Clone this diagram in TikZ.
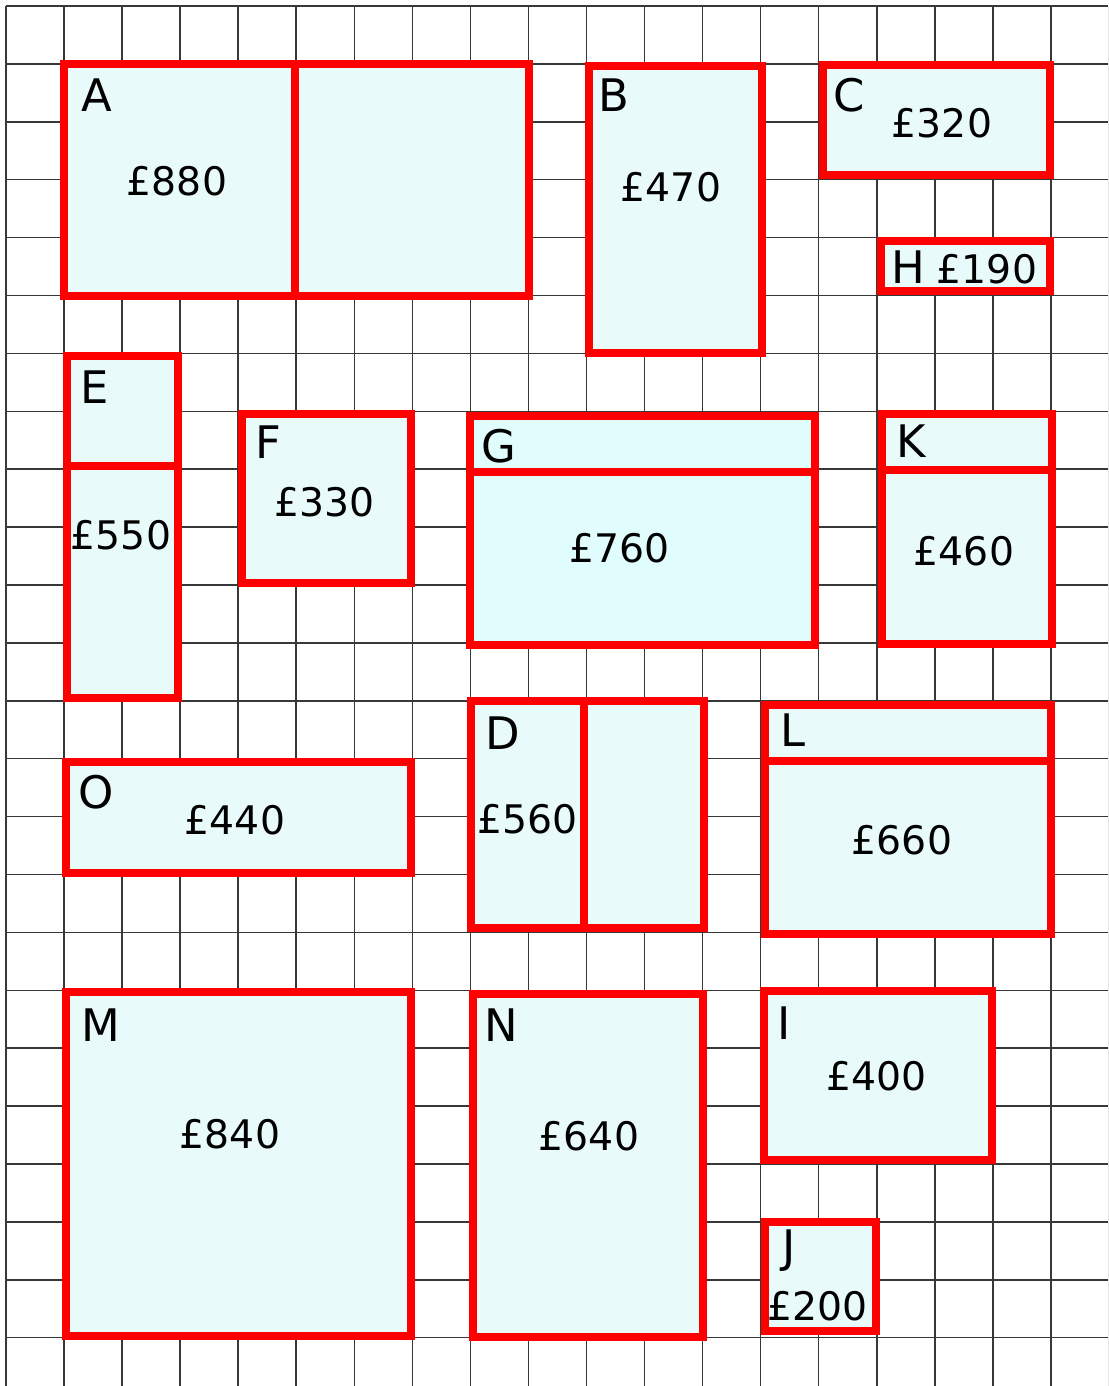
\documentclass[tikz,border=0pt]{standalone}
\usepackage{fontspec}
\setmainfont{DejaVu Sans}
\definecolor{boxfill}{HTML}{E8FAFA}
\definecolor{gfill}{HTML}{E0FCFC}
\definecolor{gridc}{HTML}{383838}
\begin{document}
\begin{tikzpicture}[x=0.0172414cm, y=-0.0172414cm,
  box/.style={draw=red, fill=boxfill, line width=3.9pt},
  divider/.style={draw=red, line width=3.9pt},
  lbl/.style={anchor=base, inner sep=0pt, font=\fontsize{22}{24}\selectfont},
  val/.style={anchor=base, inner sep=0pt, font=\fontsize{19.3}{22}\selectfont},
  gridline/.style={draw=gridc, line width=0.75pt}]
\useasboundingbox (0,0) rectangle (1108,1386);
\begin{scope}
\clip (0,0) rectangle (1108,1386);
\foreach \i in {0,...,19} \draw[gridline] ({6+58.05*\i},6) -- ({6+58.05*\i},1386);
\foreach \j in {0,...,23} \draw[gridline] (6,{6+57.9*\j}) -- (1108,{6+57.9*\j});
\end{scope}
% boxes
\path[box] (64,64) rectangle (529,296);   % A
\draw[divider] (295,64) -- (295,296);
\path[box] (589,66) rectangle (762,353);  % B
\path[box] (823,65) rectangle (1050,175); % C
\path[box] (881,241) rectangle (1050,291); % H
\path[box] (67,356) rectangle (178,698);  % E
\draw[divider] (67,466) -- (178,466);
\path[box] (242,414) rectangle (411,583); % F
\path[box, fill=gfill] (470,416) rectangle (815,645); % G
\draw[divider] (470,472) -- (815,472);
\path[box] (882,414) rectangle (1052,644); % K
\draw[divider] (882,470) -- (1052,470);
\path[box] (471,701) rectangle (704,928); % D
\draw[divider] (584,701) -- (584,928);
\path[box] (765,705) rectangle (1051,934); % L
\draw[divider] (765,761) -- (1051,761);
\path[box] (66,762) rectangle (411,873);  % O
\path[box] (66,992) rectangle (411,1336); % M
\path[box] (473,994) rectangle (703,1337); % N
\path[box] (764,991) rectangle (992,1160); % I
\path[box] (765,1222) rectangle (876,1331); % J
% labels
\node[lbl] (lA) at (96.5,112) {A};
\node[val] (vA) at (177,195) {£880};
\node[lbl] (lB) at (614,112) {B};
\node[val] (vB) at (671,201) {£470};
\node[lbl] (lC) at (849,112) {C};
\node[val] (vC) at (942,137) {£320};
\node[lbl] (lH) at (908.5,283) {H};
\node[val] (vH) at (987,283) {£190};
\node[lbl] (lE) at (95,403) {E};
\node[val] (vE) at (121,549) {£550};
\node[lbl] (lF) at (268.5,458) {F};
\node[val] (vF) at (324.5,516) {£330};
\node[lbl] (lG) at (499,462) {G};
\node[val] (vG) at (619.5,562) {£760};
\node[lbl] (lK) at (911.5,457) {K};
\node[val] (vK) at (964,565) {£460};
\node[lbl] (lD) at (503,749) {D};
\node[val] (vD) at (527.5,833) {£560};
\node[lbl] (lL) at (793,746) {L};
\node[val] (vL) at (902,854) {£660};
\node[lbl] (lO) at (96,808) {O};
\node[val] (vO) at (235,834) {£440};
\node[lbl] (lM) at (101,1041) {M};
\node[val] (vM) at (230,1148) {£840};
\node[lbl] (lN) at (501.5,1041) {N};
\node[val] (vN) at (589,1150) {£640};
\node[lbl] (lI) at (784.5,1039) {I};
\node[val] (vI) at (876.5,1090) {£400};
\node[lbl] (lJ) at (789,1262) {J};
\node[val] (vJ) at (817.5,1320) {£200};
\end{tikzpicture}
\end{document}
